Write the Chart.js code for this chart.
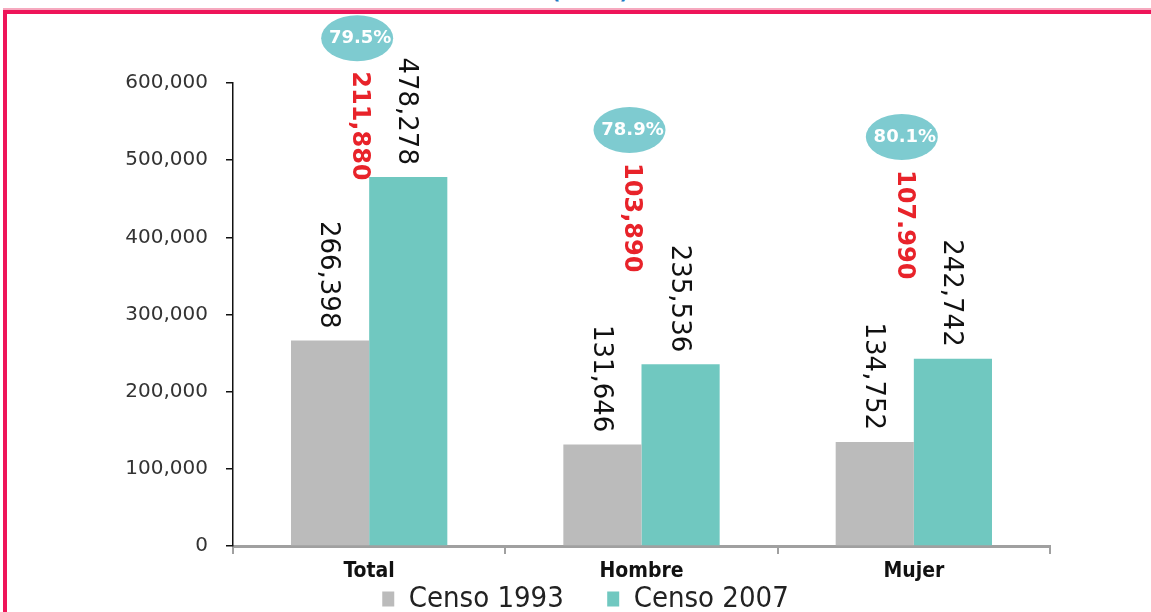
<!DOCTYPE html>
<html>
<head>
<meta charset="utf-8">
<script src="https://cdn.jsdelivr.net/npm/chart.js@4/dist/chart.umd.min.js"></script>
<style>
  body { margin: 0; background: #fff; }
  #wrap { position: relative; width: 1151px; height: 612px; overflow: hidden; }
  #frame { position: absolute; left: 3px; top: 10px; width: 1160px; height: 620px;
           border-left: 4px solid #EE1559; border-top: 4px solid #EE1559; box-shadow: 0 -2px 0 #F6A9BF; }
  #title { position: absolute; left: 0; width: 1180px; top: -20px; text-align: center;
           font: bold 20px 'DejaVu Sans', sans-serif; color: #1E7CC4; }
  #chartId { position: absolute; left: 0; top: 0; }
</style>
</head>
<body>
<div id="wrap">
  <div id="frame"></div>
  <div id="title">(Miles)</div>
  <canvas id="chartId" width="1151" height="612"></canvas>
</div>
<script>
// datos del grafico
const categories = ['Total', 'Hombre', 'Mujer'];
const censo1993 = [266398, 131646, 134752];
const censo2007 = [478278, 235536, 242742];
const diffLabels = ['211,880', '103,890', '107.990'];
const pctLabels = ['79.5%', '78.9%', '80.1%'];
const yTicks = [0, 100000, 200000, 300000, 400000, 500000, 600000];

function fmt(n) {
  return n.toString().replace(/\B(?=(\d{3})+(?!\d))/g, ',');
}

// etiquetas de valor giradas, diferencia en rojo y burbuja de porcentaje
const labelsPlugin = {
  id: 'labelsPlugin',
  afterDatasetsDraw(chart, args, opts) {
    const ctx = chart.ctx;
    const yScale = chart.scales.y;
    const xScale = chart.scales.x;
    ctx.save();
    chart.data.datasets.forEach((ds, di) => {
      chart.getDatasetMeta(di).data.forEach((bar, i) => {
        ctx.save();
        ctx.translate(bar.x - 2, bar.y - 12);
        ctx.rotate(Math.PI / 2);
        ctx.textAlign = 'right';
        ctx.textBaseline = 'middle';
        ctx.fillStyle = '#111';
        ctx.font = "26px 'DejaVu Sans', sans-serif";
        ctx.fillText(fmt(ds.data[i]), 0, 0);
        ctx.restore();
      });
    });
    categories.forEach((c, i) => {
      const cx = xScale.getPixelForValue(i) - 12;
      const cy = yScale.getPixelForValue(opts.bubbleAt[i]);
      // burbuja
      ctx.beginPath();
      ctx.ellipse(cx, cy, 36, 23, 0, 0, Math.PI * 2);
      ctx.fillStyle = '#7ECBD0';
      ctx.fill();
      ctx.fillStyle = '#fff';
      ctx.font = "bold 18px 'DejaVu Sans', sans-serif";
      ctx.textAlign = 'center';
      ctx.textBaseline = 'middle';
      ctx.fillText(pctLabels[i], cx + 3, cy);
      // diferencia
      ctx.save();
      ctx.translate(cx + 2, cy + 33);
      ctx.rotate(Math.PI / 2);
      ctx.textAlign = 'left';
      ctx.textBaseline = 'middle';
      ctx.fillStyle = '#E8232A';
      ctx.font = "bold 24px 'DejaVu Sans', sans-serif";
      ctx.fillText(diffLabels[i], 0, 0);
      ctx.restore();
    });
    ctx.restore();
  }
};

var chrt = document.getElementById('chartId').getContext('2d');

let chartConfig = {
  type: 'bar',
  data: {
    labels: categories,
    datasets: [{
      label: 'Censo 1993',
      data: censo1993,
      backgroundColor: '#BBBBBB',
      barPercentage: 1,
      categoryPercentage: 0.574
    }, {
      label: 'Censo 2007',
      data: censo2007,
      backgroundColor: '#70C8C0',
      barPercentage: 1,
      categoryPercentage: 0.574
    }]
  },
  options: {
    responsive: false,
    animation: false,
    layout: {
      padding: { left: 121, right: 101, top: 83, bottom: -11.5 }
    },
    scales: {
      x: {
        afterFit: function (scale) { scale.height = 36.5; },
        border: { color: '#A0A0A0', width: 3 },
        grid: { drawOnChartArea: false, tickLength: 8, color: '#A0A0A0', lineWidth: 2 },
        ticks: {
          color: '#111',
          padding: 5,
          font: { family: "'DejaVu Sans Condensed', 'Liberation Sans Narrow', sans-serif", size: 21, weight: 'bold' }
        }
      },
      y: {
        min: 0,
        max: 600000,
        afterFit: function (scale) { scale.width = 112; },
        afterBuildTicks: function (scale) {
          scale.ticks = yTicks.map(v => ({ value: v }));
        },
        border: { color: '#111', width: 1.5 },
        grid: { drawOnChartArea: false, tickLength: 7, color: '#111', lineWidth: 1.5 },
        ticks: {
          color: '#333',
          padding: 18,
          font: { family: "'DejaVu Sans', sans-serif", size: 20 },
          callback: function (v) { return fmt(v); }
        }
      }
    },
    plugins: {
      tooltip: { enabled: false },
      legend: {
        position: 'bottom',
        labels: {
          boxWidth: 12,
          boxHeight: 15,
          padding: 2,
          color: '#222',
          font: { family: "'DejaVu Sans Condensed', 'Liberation Sans Narrow', sans-serif", size: 29 },
          generateLabels: function (chart) {
            const items = Chart.defaults.plugins.legend.labels.generateLabels(chart);
            items[0].text = items[0].text + '     ';
            items.forEach(it => { it.lineWidth = 0; });
            return items;
          }
        }
      },
      labelsPlugin: {
        bubbleAt: [658000, 539000, 530000]
      }
    }
  },
  plugins: [labelsPlugin]
};
window.barChart = new Chart(chrt, chartConfig);
</script>
</body>
</html>
